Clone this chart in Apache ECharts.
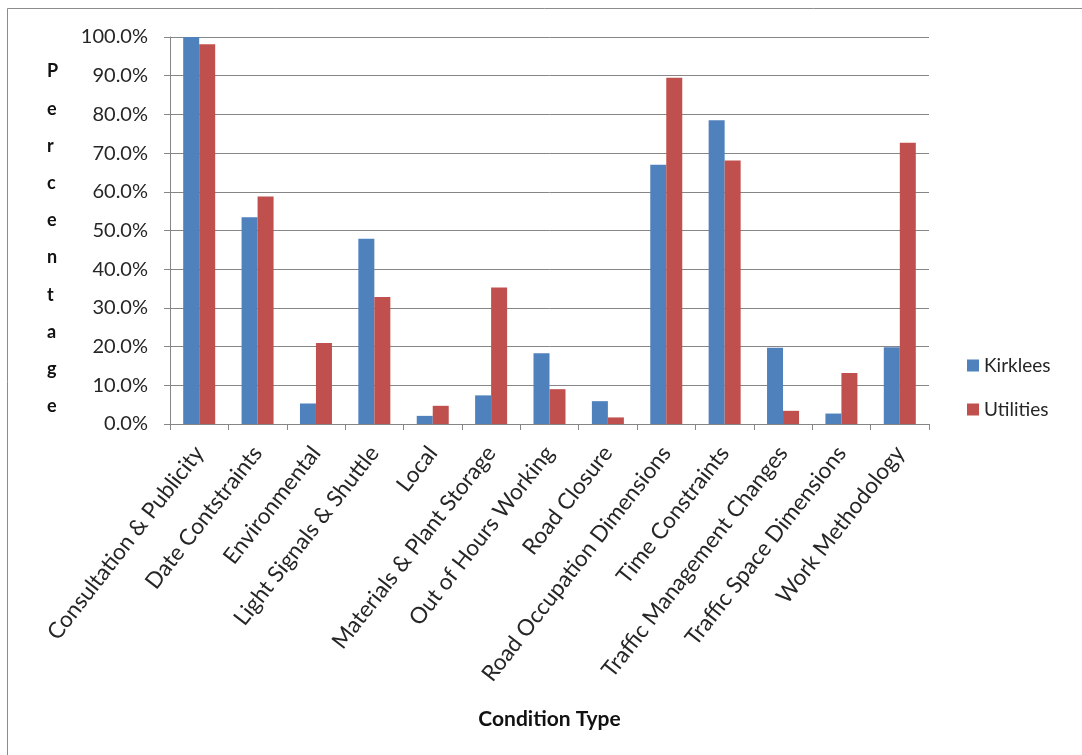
<!DOCTYPE html>
<html>
<head>
<meta charset="utf-8">
<script src="https://cdn.jsdelivr.net/npm/echarts@6/dist/echarts.min.js"></script>
<style>
  html, body { margin: 0; padding: 0; background: #fff; }
  #chart { width: 1082px; height: 755px; }
</style>
</head>
<body>
<div id="chart"></div>
<script>
// Condition types on the category axis
const categories = [
  'Consultation & Publicity', 'Date Contstraints', 'Environmental',
  'Light Signals & Shuttle', 'Local', 'Materials & Plant Storage',
  'Out of Hours Working', 'Road Closure', 'Road Occupation Dimensions',
  'Time Constraints', 'Traffic Management Changes', 'Traffic Space Dimensions',
  'Work Methodology'
];

// Share of conditions (%) per organisation
const kirklees  = [100.0, 53.4, 5.3, 47.9, 2.1, 7.4, 18.3, 5.9, 67.0, 78.5, 19.7, 2.7, 19.8];
const utilities = [98.1, 58.8, 20.9, 32.8, 4.7, 35.3, 9.0, 1.7, 89.5, 68.1, 3.4, 13.2, 72.7];

const seriesNames = ['Kirklees', 'Utilities'];
const yTitle = 'Percentage';
const xTitle = 'Condition Type';

const font = 'Lato, "Open Sans", sans-serif';
const axisGray = '#868686';
const textColor = '#262626';

const chart = echarts.init(document.getElementById('chart'), null, { renderer: 'canvas' });

chart.setOption({
  animation: false,
  backgroundColor: '#fff',
  textStyle: { fontFamily: font, color: textColor },
  grid: { left: 170, right: 153, top: 37, bottom: 331, containLabel: false },
  legend: {
    orient: 'vertical',
    left: 962,
    top: 351,
    itemWidth: 12,
    itemHeight: 12,
    itemGap: 25,
    icon: 'rect',
    textStyle: { fontFamily: font, fontSize: 19, color: textColor },
    data: seriesNames
  },
  xAxis: {
    type: 'category',
    data: categories,
    axisLine: { lineStyle: { color: axisGray, width: 1 } },
    axisTick: { show: true, length: 6, lineStyle: { color: axisGray } },
    axisLabel: {
      rotate: 52,
      interval: 0,
      margin: 25,
      fontFamily: font,
      fontSize: 22.5,
      color: textColor
    },
    name: xTitle,
    nameLocation: 'middle',
    nameGap: 285,
    nameTextStyle: { fontFamily: font, fontSize: 21, fontWeight: 'bold', color: '#111' }
  },
  yAxis: {
    type: 'value',
    min: 0,
    max: 100,
    interval: 10,
    axisLine: { show: true, lineStyle: { color: axisGray, width: 1 } },
    axisTick: { show: true, inside: false, length: 6, lineStyle: { color: axisGray } },
    splitLine: { show: true, lineStyle: { color: axisGray, width: 1 } },
    axisLabel: {
      margin: 22,
      fontFamily: font,
      fontSize: 20,
      color: textColor,
      formatter: v => v.toFixed(1) + '%'
    }
  },
  graphic: [
    // frame edges along the top and left
    { type: 'line', shape: { x1: 7.5, y1: 8.5, x2: 1082, y2: 8.5 }, style: { stroke: '#8c8c8c', lineWidth: 1 } },
    { type: 'line', shape: { x1: 7.5, y1: 8.5, x2: 7.5, y2: 755 }, style: { stroke: '#8c8c8c', lineWidth: 1 } },
    // vertical stacked axis title
    {
      type: 'text',
      left: 47,
      top: 53,
      style: {
        text: yTitle.split('').join('\n'),
        fontFamily: font,
        fontSize: 18,
        fontWeight: 'bold',
        lineHeight: 37.2,
        fill: '#111',
        align: 'center'
      }
    }
  ],
  series: [
    {
      name: seriesNames[0],
      type: 'bar',
      data: kirklees,
      barWidth: 16,
      barGap: '0%',
      itemStyle: { color: '#4F81BD' }
    },
    {
      name: seriesNames[1],
      type: 'bar',
      data: utilities,
      barWidth: 16,
      barGap: '0%',
      itemStyle: { color: '#C0504D' }
    }
  ]
});
</script>
</body>
</html>
